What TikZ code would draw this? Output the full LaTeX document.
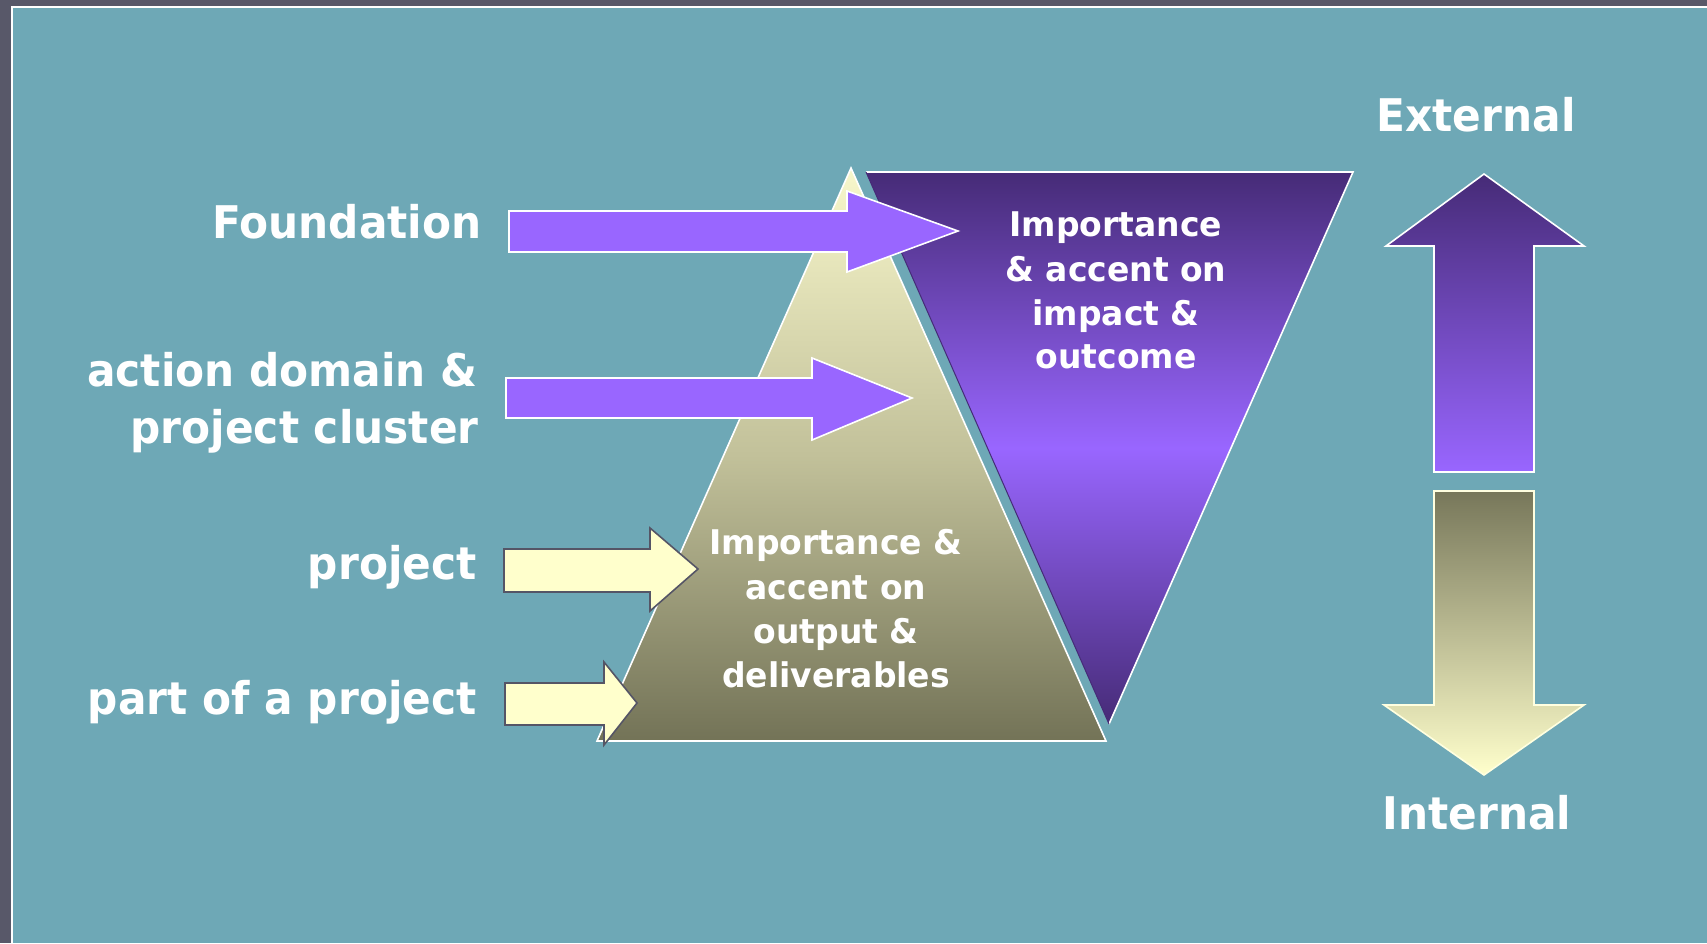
\documentclass[tikz,border=0pt]{standalone}
\usepackage{fontspec}
\setmainfont{DejaVu Sans}
\newfontfamily\bigf[FakeStretch=0.94]{DejaVu Sans}
\newfontfamily\smf[FakeStretch=0.97]{DejaVu Sans}
\definecolor{borderdark}{HTML}{585869}
\definecolor{bgteal}{HTML}{6EA8B6}
\definecolor{pdark}{HTML}{462B77}
\definecolor{plight}{HTML}{9966FF}
\definecolor{ylight}{HTML}{FFFFCC}
\definecolor{ytop}{HTML}{F8F7CB}
\definecolor{ymid}{HTML}{C2C19A}
\definecolor{ybot}{HTML}{737357}
\definecolor{olive}{HTML}{77775A}
\definecolor{ygray}{HTML}{555566}
\begin{document}
\begin{tikzpicture}[x=0.5pt,y=-0.5pt,
  lbl/.style={text=white, inner sep=0, font=\bigf\bfseries\fontsize{22.5}{27}\selectfont},
  tlbl/.style={text=white, inner sep=0, anchor=base, font=\smf\bfseries\fontsize{17}{20}\selectfont},
  parrow/.style={fill=plight, draw=white, line width=0.8pt, line join=miter},
  yarrow/.style={fill=ylight, draw=ygray, line width=0.8pt, line join=miter}]
\useasboundingbox (0,0) rectangle (1707,943);
\fill[borderdark] (0,0) rectangle (1707,943);
\fill[white] (11,6) rectangle (1707,943);
\fill[bgteal] (12.5,7.5) rectangle (1707,943);
% pyramid
\shadedraw[top color=ytop, bottom color=ybot, middle color=ymid, draw=white, line width=0.8pt]
  (851,168) -- (1106,741) -- (597,741) -- cycle;
% inverted triangle
\shade[top color=pdark, bottom color=pdark, middle color=plight]
  (866,172) -- (1353,172) -- (1109,724) -- cycle;
\draw[white, line width=0.8pt, line join=miter] (866,172) -- (1353,172) -- (1109,724);
\draw[pdark, line width=0.5pt] (1109,724) -- (866,172);
% purple arrows
\draw[parrow] (509,211) -- (847,211) -- (847,191) -- (958,231) -- (847,272) -- (847,252) -- (509,252) -- cycle;
\draw[parrow] (506,378) -- (812,378) -- (812,358) -- (912,398) -- (812,440) -- (812,418) -- (506,418) -- cycle;
% yellow arrows
\draw[yarrow] (504,549) -- (650,549) -- (650,528) -- (698,569) -- (650,611) -- (650,592) -- (504,592) -- cycle;
\draw[yarrow] (505,683) -- (604,683) -- (604,662) -- (637,703) -- (604,745) -- (604,725) -- (505,725) -- cycle;
% right arrows
\shadedraw[top color=pdark, bottom color=plight, draw=white, line width=0.8pt, line join=miter]
  (1484,174) -- (1584,246) -- (1534,246) -- (1534,472) -- (1434,472) -- (1434,246) -- (1386,246) -- cycle;
\shadedraw[top color=olive, bottom color=ylight, draw=ylight!60!white, line width=0.8pt, line join=miter]
  (1434,491) -- (1534,491) -- (1534,705) -- (1584,705) -- (1484,775) -- (1384,705) -- (1434,705) -- cycle;
% left labels
\node[lbl, anchor=base east] (found) at (482,238) {Foundation};
\node[lbl, anchor=base east] (act1) at (478,386) {action domain \&};
\node[lbl, anchor=base east] (act2) at (479,443) {project cluster};
\node[lbl, anchor=base east] (proj) at (477,579) {project};
\node[lbl, anchor=base east] (part) at (477,714) {part of a project};
\node[lbl, anchor=base] (ext) at (1476,131) {External};
\node[lbl, anchor=base] (int) at (1477,829) {Internal};
% triangle texts
\node[tlbl] (i1) at (1116,236) {Importance};
\node[tlbl] (i2) at (1116,281) {\& accent on};
\node[tlbl] (i3) at (1116,325) {impact \&};
\node[tlbl] (i4) at (1116,368) {outcome};
\node[tlbl] (o1) at (836,554) {Importance \&};
\node[tlbl] (o2) at (836,599) {accent on};
\node[tlbl] (o3) at (836,643) {output \&};
\node[tlbl] (o4) at (836,687) {deliverables};
\end{tikzpicture}
\end{document}
